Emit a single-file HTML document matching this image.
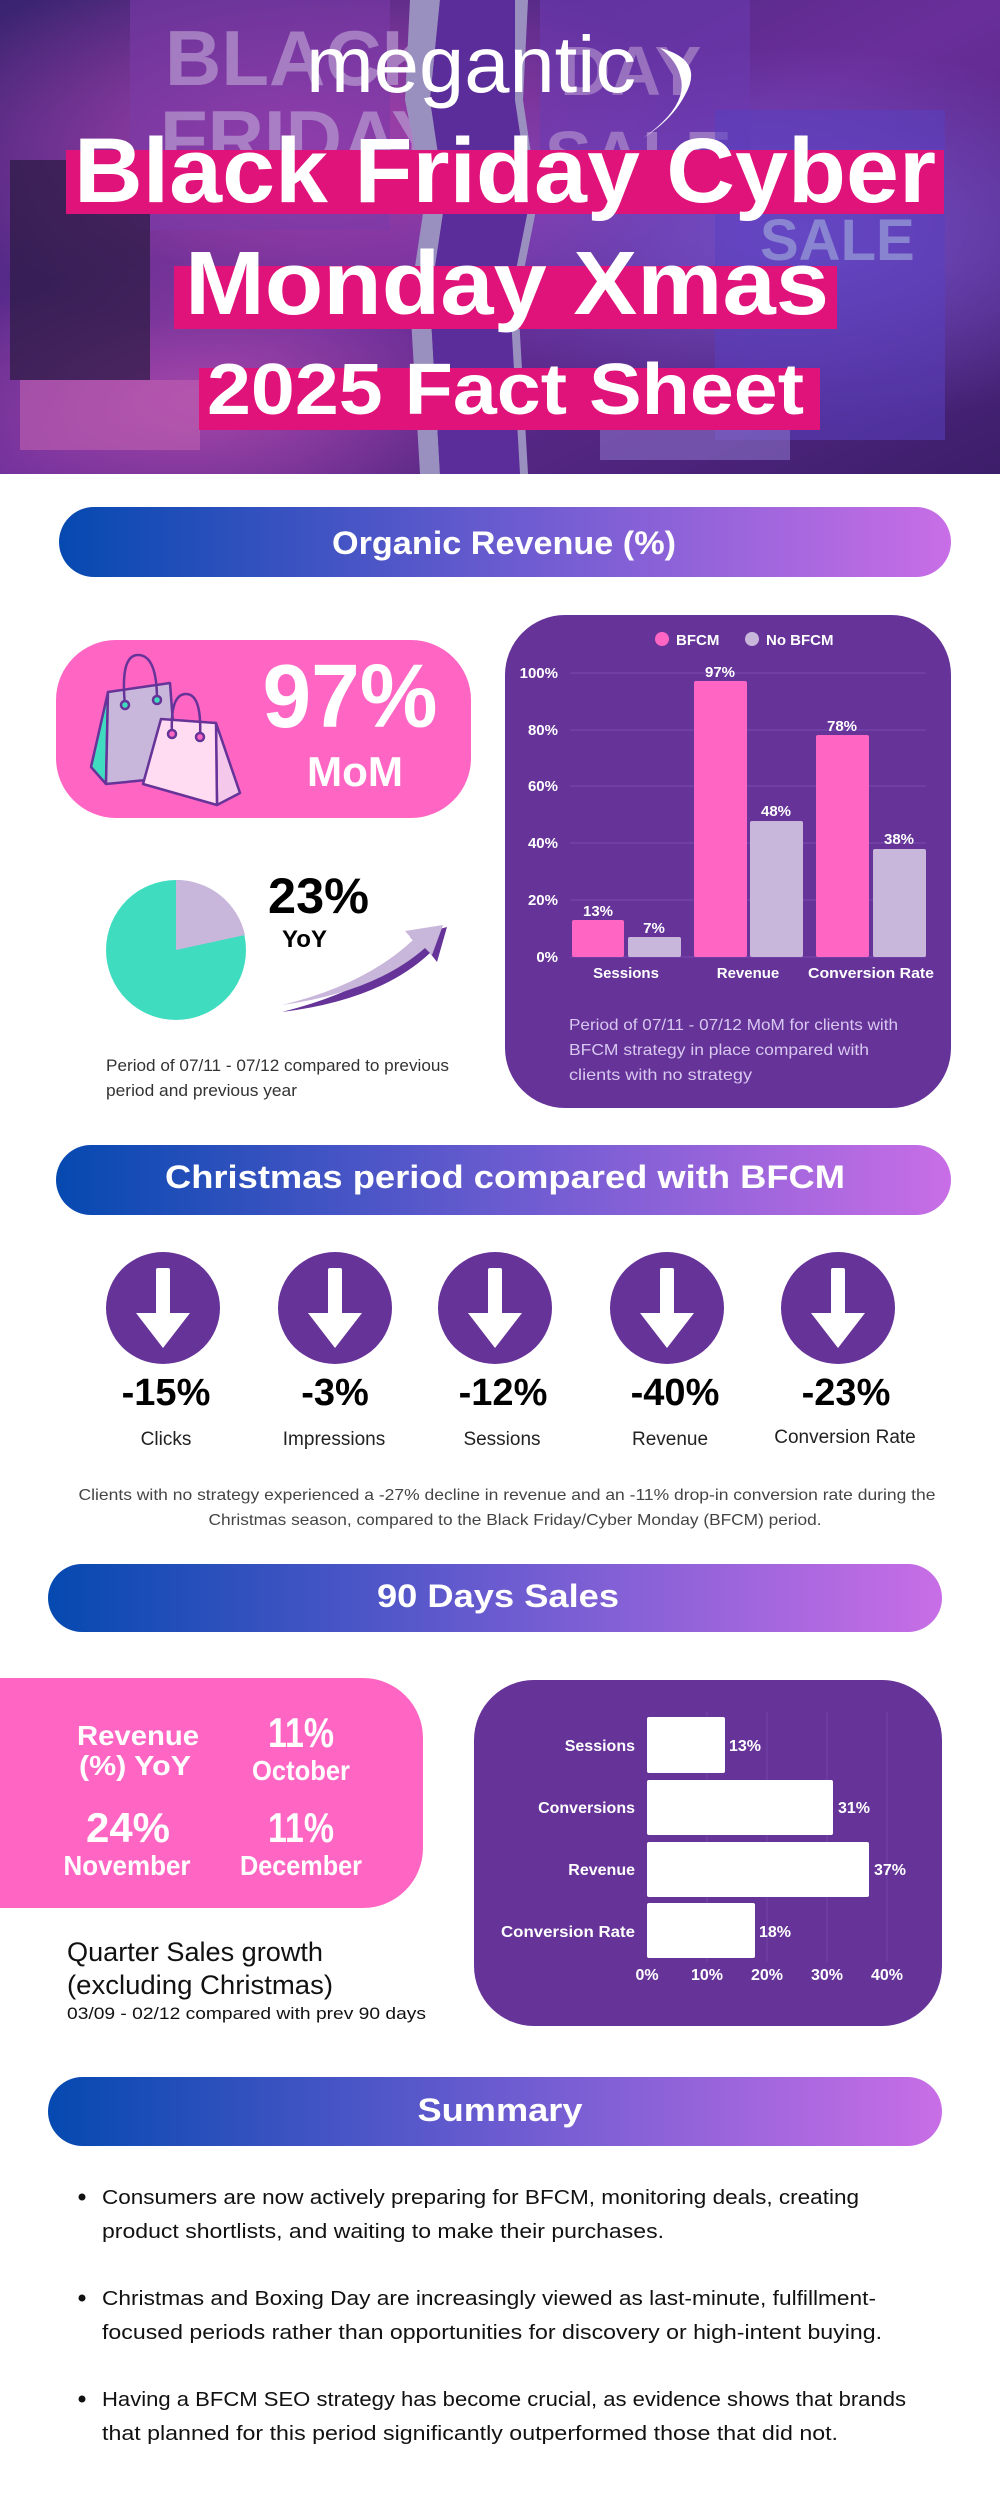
<!DOCTYPE html>
<html><head><meta charset="utf-8"><style>
html,body{margin:0;padding:0;background:#fff}
svg{display:block}
text{font-family:"Liberation Sans",sans-serif}
</style></head><body>
<svg width="1000" height="2500" viewBox="0 0 1000 2500" xmlns="http://www.w3.org/2000/svg">
<defs>
<linearGradient id="hdr" x1="0" x2="1" y1="0" y2="0"><stop offset="0" stop-color="#0549b0"/><stop offset="0.5" stop-color="#6a5bd0"/><stop offset="1" stop-color="#c86ee6"/></linearGradient>
<linearGradient id="hero" x1="0" x2="1" y1="0" y2="1"><stop offset="0" stop-color="#3a2470"/><stop offset="0.5" stop-color="#6a2e9a"/><stop offset="1" stop-color="#3c1e6a"/></linearGradient>
<radialGradient id="hp1" cx="0.3" cy="0.3" r="0.4"><stop offset="0" stop-color="#c04ab8" stop-opacity="0.8"/><stop offset="1" stop-color="#c04ab8" stop-opacity="0"/></radialGradient>
<radialGradient id="hp2" cx="0.8" cy="0.5" r="0.4"><stop offset="0" stop-color="#7a5ad8" stop-opacity="0.8"/><stop offset="1" stop-color="#7a5ad8" stop-opacity="0"/></radialGradient>
<radialGradient id="hp3" cx="0.2" cy="0.85" r="0.3"><stop offset="0" stop-color="#c050b0" stop-opacity="0.7"/><stop offset="1" stop-color="#c050b0" stop-opacity="0"/></radialGradient>
</defs>

<!-- HERO -->
<rect x="0" y="0" width="1000" height="474" fill="url(#hero)"/>
<rect x="0" y="0" width="1000" height="474" fill="url(#hp1)"/>
<rect x="0" y="0" width="1000" height="474" fill="url(#hp2)"/>
<rect x="0" y="0" width="1000" height="474" fill="url(#hp3)"/>
<rect x="130" y="0" width="260" height="230" fill="#7a3aa8" opacity="0.6"/>
<text x="165" y="85" font-size="78" font-weight="bold" fill="#b89ad0" opacity="0.7">BLACK</text>
<text x="160" y="165" font-size="78" font-weight="bold" fill="#b89ad0" opacity="0.7">FRIDAY</text>
<rect x="540" y="0" width="210" height="200" fill="#6a3ab0" opacity="0.6"/>
<text x="560" y="95" font-size="70" font-weight="bold" fill="#b89ad0" opacity="0.6">DAY</text>
<text x="545" y="180" font-size="70" font-weight="bold" fill="#b89ad0" opacity="0.6">SALE</text>
<rect x="715" y="110" width="230" height="330" fill="#5a40c0" opacity="0.55"/>
<text x="760" y="260" font-size="58" font-weight="bold" fill="#9aa0d8" opacity="0.7">SALE</text>
<rect x="10" y="160" width="140" height="220" fill="#2a1a40" opacity="0.7"/>
<rect x="20" y="380" width="180" height="70" fill="#c060b0" opacity="0.6"/>
<rect x="600" y="370" width="190" height="90" fill="#8a70c8" opacity="0.6"/>
<path d="M410 0 L440 0 L430 100 L445 200 L430 300 L440 474 L420 474 L410 300 L425 200 L405 100Z" fill="#9a90c0"/>
<path d="M440 0 L520 0 L515 100 L530 200 L510 300 L520 474 L440 474 L430 300 L445 200 L430 100Z" fill="#5a2d9a"/>
<path d="M515 0 L528 0 L523 100 L538 200 L518 300 L528 474 L520 474 L510 300 L530 200 L515 100Z" fill="#9a90c0"/>
<text x="306" y="92" font-size="80" font-weight="300" fill="#fff" textLength="330" lengthAdjust="spacingAndGlyphs">megantic</text>
<path d="M660 48 Q705 60 685 95 Q672 120 643 138 Q690 105 680 75 Q676 60 660 48Z" fill="#fff"/>
<rect x="66" y="150" width="878" height="64" fill="#e0137a"/>
<text x="74" y="202" font-size="92" font-weight="bold" fill="#fff" textLength="862" lengthAdjust="spacingAndGlyphs">Black Friday Cyber</text>
<rect x="174" y="266" width="663" height="63" fill="#e0137a"/>
<text x="185" y="314" font-size="90" font-weight="bold" fill="#fff" textLength="644" lengthAdjust="spacingAndGlyphs">Monday Xmas</text>
<rect x="199" y="368" width="621" height="62" fill="#e0137a"/>
<text x="207" y="414" font-size="72" font-weight="bold" fill="#fff" textLength="597" lengthAdjust="spacingAndGlyphs">2025 Fact Sheet</text>

<!-- Organic revenue header -->
<rect x="59" y="507" width="892" height="70" rx="35" fill="url(#hdr)"/>
<text x="504" y="554" font-size="32" font-weight="bold" fill="#fff" text-anchor="middle" textLength="344" lengthAdjust="spacingAndGlyphs">Organic Revenue (%)</text>

<!-- Pink card -->
<rect x="56" y="640" width="415" height="178" rx="60" fill="#ff66c4"/>
<g stroke="#663399" stroke-width="2.5" stroke-linejoin="round">
<path d="M108 692 L91 767 L106 784Z" fill="#40dcc0"/>
<path d="M108 692 L170 683 L177 777 L106 784Z" fill="#c9b6db"/>
<path d="M125 705 Q120 655 138 655 Q157 655 157 700" fill="none"/>
<circle cx="125" cy="705" r="4" fill="#40dcc0"/><circle cx="157" cy="700" r="4" fill="#40dcc0"/>
<path d="M216 723 L240 793 L217 805Z" fill="#f4c8ea"/>
<path d="M161 719 L216 723 L217 805 L143 784Z" fill="#ffdcf1"/>
<path d="M172 734 Q170 694 186 694 Q202 694 200 737" fill="none"/>
<circle cx="172" cy="734" r="4" fill="#ff66c4"/><circle cx="200" cy="737" r="4" fill="#ff66c4"/>
</g>
<text x="350" y="727" font-size="90" font-weight="bold" fill="#fff" text-anchor="middle" textLength="175" lengthAdjust="spacingAndGlyphs">97%</text>
<text x="355" y="786" font-size="42" font-weight="bold" fill="#fff" text-anchor="middle" textLength="96" lengthAdjust="spacingAndGlyphs">MoM</text>

<!-- Pie -->
<circle cx="176" cy="950" r="70" fill="#40dcc0"/>
<path d="M176 950 L176 880 A70 70 0 0 1 245 935 Z" fill="#c9b6db"/>
<text x="268" y="913" font-size="50" font-weight="bold" fill="#000" textLength="101" lengthAdjust="spacingAndGlyphs">23%</text>
<text x="282" y="947" font-size="24" font-weight="bold" fill="#000" textLength="45" lengthAdjust="spacingAndGlyphs">YoY</text>
<path d="M282 1012 Q370 990 418 945 L410 937 L447 927 L437 962 L430 953 Q380 1000 282 1012Z" fill="#663399"/>
<path d="M282 1005 Q365 985 413 940 L405 931 L443 925 L432 955 L425 948 Q375 992 282 1005Z" fill="#c9b6db"/>
<text x="106" y="1071" font-size="16.5" fill="#333" textLength="343" lengthAdjust="spacingAndGlyphs">Period of 07/11 - 07/12 compared to previous</text>
<text x="106" y="1096" font-size="16.5" fill="#333" textLength="191" lengthAdjust="spacingAndGlyphs">period and previous year</text>

<!-- Purple chart card -->
<rect x="505" y="615" width="446" height="493" rx="60" fill="#663399"/>
<circle cx="662" cy="639" r="7" fill="#ff66c4"/>
<text x="676" y="645" font-size="15" font-weight="bold" fill="#fff">BFCM</text>
<circle cx="752" cy="639" r="7" fill="#c9b6db"/>
<text x="766" y="645" font-size="15" font-weight="bold" fill="#fff">No BFCM</text>
<g stroke="#7a4aae" stroke-width="1">
<line x1="570" x2="926" y1="673" y2="673"/><line x1="570" x2="926" y1="730" y2="730"/>
<line x1="570" x2="926" y1="786" y2="786"/><line x1="570" x2="926" y1="843" y2="843"/>
<line x1="570" x2="926" y1="900" y2="900"/><line x1="570" x2="926" y1="957" y2="957"/>
</g>
<g font-size="15" font-weight="bold" fill="#fff" text-anchor="end">
<text x="558" y="678">100%</text><text x="558" y="735">80%</text><text x="558" y="791">60%</text>
<text x="558" y="848">40%</text><text x="558" y="905">20%</text><text x="558" y="962">0%</text>
</g>
<rect x="572" y="920" width="52" height="37" rx="2" fill="#ff66c4"/>
<rect x="628" y="937" width="53" height="20" rx="2" fill="#c9b6db"/>
<rect x="694" y="681" width="53" height="276" rx="2" fill="#ff66c4"/>
<rect x="750" y="821" width="53" height="136" rx="2" fill="#c9b6db"/>
<rect x="816" y="735" width="53" height="222" rx="2" fill="#ff66c4"/>
<rect x="873" y="849" width="53" height="108" rx="2" fill="#c9b6db"/>
<g font-size="15" font-weight="bold" fill="#fff" text-anchor="middle">
<text x="598" y="916">13%</text><text x="654" y="933">7%</text>
<text x="720" y="677">97%</text><text x="776" y="816">48%</text>
<text x="842" y="731">78%</text><text x="899" y="844">38%</text>
<text x="626" y="978">Sessions</text><text x="748" y="978">Revenue</text><text x="871" y="978" textLength="126" lengthAdjust="spacingAndGlyphs">Conversion Rate</text>
</g>
<g font-size="16" fill="#d8c8f0">
<text x="569" y="1030" textLength="329" lengthAdjust="spacingAndGlyphs">Period of 07/11 - 07/12 MoM for clients with</text>
<text x="569" y="1055" textLength="300" lengthAdjust="spacingAndGlyphs">BFCM strategy in place compared with</text>
<text x="569" y="1080" textLength="183" lengthAdjust="spacingAndGlyphs">clients with no strategy</text>
</g>

<!-- Christmas header -->
<rect x="56" y="1145" width="895" height="70" rx="35" fill="url(#hdr)"/>
<text x="505" y="1188" font-size="32" font-weight="bold" fill="#fff" text-anchor="middle" textLength="680" lengthAdjust="spacingAndGlyphs">Christmas period compared with BFCM</text>

<g fill="#663399">
<ellipse cx="163" cy="1308" rx="57" ry="56"/><ellipse cx="335" cy="1308" rx="57" ry="56"/>
<ellipse cx="495" cy="1308" rx="57" ry="56"/><ellipse cx="667" cy="1308" rx="57" ry="56"/>
<ellipse cx="838" cy="1308" rx="57" ry="56"/>
</g>
<g fill="#fff">
<path id="ar" d="M156 1270 Q156 1268 158 1268 L168 1268 Q170 1268 170 1270 L170 1313 L190 1313 L163 1348 L136 1313 L156 1313Z"/>
<use href="#ar" x="172"/><use href="#ar" x="332"/><use href="#ar" x="504"/><use href="#ar" x="675"/>
</g>
<g font-size="38" font-weight="bold" fill="#000" text-anchor="middle">
<text x="166" y="1405">-15%</text><text x="335" y="1405">-3%</text><text x="503" y="1405">-12%</text>
<text x="675" y="1405">-40%</text><text x="846" y="1405">-23%</text>
</g>
<g font-size="19" fill="#222" text-anchor="middle">
<text x="166" y="1445">Clicks</text><text x="334" y="1445">Impressions</text><text x="502" y="1445">Sessions</text>
<text x="670" y="1445">Revenue</text><text x="845" y="1443">Conversion Rate</text>
</g>
<text x="507" y="1500" font-size="16" fill="#444" text-anchor="middle" textLength="857" lengthAdjust="spacingAndGlyphs">Clients with no strategy experienced a -27% decline in revenue and an -11% drop-in conversion rate during the</text>
<text x="515" y="1525" font-size="16" fill="#444" text-anchor="middle" textLength="613" lengthAdjust="spacingAndGlyphs">Christmas season, compared to the Black Friday/Cyber Monday (BFCM) period.</text>

<!-- 90 days -->
<rect x="48" y="1564" width="894" height="68" rx="34" fill="url(#hdr)"/>
<text x="498" y="1607" font-size="32" font-weight="bold" fill="#fff" text-anchor="middle" textLength="242" lengthAdjust="spacingAndGlyphs">90 Days Sales</text>

<path d="M0 1678 L363 1678 A60 60 0 0 1 423 1738 L423 1848 A60 60 0 0 1 363 1908 L0 1908Z" fill="#ff66c4"/>
<g font-weight="bold" fill="#fff" text-anchor="middle">
<text x="138" y="1745" font-size="28" textLength="122" lengthAdjust="spacingAndGlyphs">Revenue</text>
<text x="135" y="1775" font-size="28" textLength="112" lengthAdjust="spacingAndGlyphs">(%) YoY</text>
<text x="301" y="1747" font-size="42" textLength="66" lengthAdjust="spacingAndGlyphs">11%</text>
<text x="301" y="1780" font-size="28" textLength="98" lengthAdjust="spacingAndGlyphs">October</text>
<text x="128" y="1842" font-size="42" textLength="84" lengthAdjust="spacingAndGlyphs">24%</text>
<text x="127" y="1875" font-size="28" textLength="127" lengthAdjust="spacingAndGlyphs">November</text>
<text x="301" y="1842" font-size="42" textLength="66" lengthAdjust="spacingAndGlyphs">11%</text>
<text x="301" y="1875" font-size="28" textLength="122" lengthAdjust="spacingAndGlyphs">December</text>
</g>
<text x="67" y="1961" font-size="27" fill="#111" textLength="256" lengthAdjust="spacingAndGlyphs">Quarter Sales growth</text>
<text x="67" y="1994" font-size="27" fill="#111" textLength="266" lengthAdjust="spacingAndGlyphs">(excluding Christmas)</text>
<text x="67" y="2019" font-size="17" fill="#111" textLength="359" lengthAdjust="spacingAndGlyphs">03/09 - 02/12 compared with prev 90 days</text>

<rect x="474" y="1680" width="468" height="346" rx="60" fill="#663399"/>
<g stroke="#7446a8" stroke-width="1">
<line x1="707" x2="707" y1="1712" y2="1962"/><line x1="767" x2="767" y1="1712" y2="1962"/>
<line x1="827" x2="827" y1="1712" y2="1962"/><line x1="887" x2="887" y1="1712" y2="1962"/>
</g>
<g fill="#fff">
<rect x="647" y="1717" width="78" height="56" rx="2"/>
<rect x="647" y="1780" width="186" height="55" rx="2"/>
<rect x="647" y="1842" width="222" height="55" rx="2"/>
<rect x="647" y="1903" width="108" height="55" rx="2"/>
</g>
<g font-size="16" font-weight="bold" fill="#fff">
<g text-anchor="end">
<text x="635" y="1751">Sessions</text><text x="635" y="1813">Conversions</text>
<text x="635" y="1875">Revenue</text><text x="635" y="1937" textLength="134" lengthAdjust="spacingAndGlyphs">Conversion Rate</text>
</g>
<text x="729" y="1751">13%</text><text x="838" y="1813">31%</text>
<text x="874" y="1875">37%</text><text x="759" y="1937">18%</text>
<g text-anchor="middle">
<text x="647" y="1980">0%</text><text x="707" y="1980">10%</text><text x="767" y="1980">20%</text>
<text x="827" y="1980">30%</text><text x="887" y="1980">40%</text>
</g>
</g>

<!-- Summary -->
<rect x="48" y="2077" width="894" height="69" rx="34.5" fill="url(#hdr)"/>
<text x="500" y="2121" font-size="32" font-weight="bold" fill="#fff" text-anchor="middle" textLength="165" lengthAdjust="spacingAndGlyphs">Summary</text>
<g fill="#111">
<circle cx="82" cy="2197" r="3.5"/><circle cx="82" cy="2298" r="3.5"/><circle cx="82" cy="2399" r="3.5"/>
</g>
<g font-size="20" fill="#111">
<text x="102" y="2204" textLength="757" lengthAdjust="spacingAndGlyphs">Consumers are now actively preparing for BFCM, monitoring deals, creating</text>
<text x="102" y="2238" textLength="562" lengthAdjust="spacingAndGlyphs">product shortlists, and waiting to make their purchases.</text>
<text x="102" y="2305" textLength="774" lengthAdjust="spacingAndGlyphs">Christmas and Boxing Day are increasingly viewed as last-minute, fulfillment-</text>
<text x="102" y="2339" textLength="780" lengthAdjust="spacingAndGlyphs">focused periods rather than opportunities for discovery or high-intent buying.</text>
<text x="102" y="2406" textLength="804" lengthAdjust="spacingAndGlyphs">Having a BFCM SEO strategy has become crucial, as evidence shows that brands</text>
<text x="102" y="2440" textLength="736" lengthAdjust="spacingAndGlyphs">that planned for this period significantly outperformed those that did not.</text>
</g>
</svg>
</body></html>
